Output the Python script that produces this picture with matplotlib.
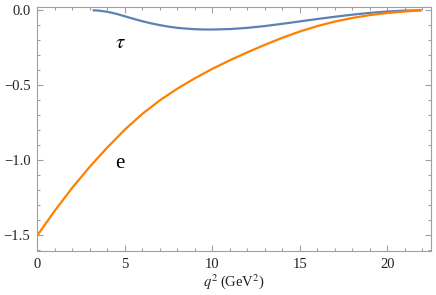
import matplotlib
matplotlib.use("Agg")
import matplotlib.pyplot as plt
from matplotlib.ticker import MultipleLocator

# electron channel (orange)
q2_e = [0, 1, 2, 3, 4, 5, 6, 7, 8, 9, 10, 11, 12, 13, 14, 15, 16, 17, 18, 19, 20, 21, 21.95]
val_e = [-1.50, -1.335, -1.182, -1.042, -0.914, -0.795, -0.69, -0.60, -0.522, -0.453, -0.39,
         -0.333, -0.28, -0.23, -0.183, -0.141, -0.105, -0.075, -0.051, -0.032, -0.018, -0.008, 0.0]

# tau channel (blue)
q2_t = [3.16, 3.5, 4, 4.5, 5, 5.5, 6, 6.5, 7, 7.5, 8, 8.5, 9, 9.5, 10, 11, 12, 13, 14, 15,
        16, 17, 18, 19, 20, 21, 21.95]
val_t = [0.0, -0.002, -0.01, -0.023, -0.04, -0.057, -0.073, -0.087, -0.099, -0.109, -0.117,
         -0.122, -0.126, -0.128, -0.128, -0.125, -0.117, -0.105, -0.09, -0.074, -0.058,
         -0.043, -0.029, -0.017, -0.008, -0.002, 0.0]

x_ticks = [0, 5, 10, 15, 20]
y_ticks = [0.0, -0.5, -1.0, -1.5]
y_tick_labels = ["0.0", "\u22120.5", "\u22121.0", "\u22121.5"]

plt.rcParams['font.family'] = ['Liberation Serif', 'DejaVu Serif']
plt.rcParams['mathtext.fontset'] = 'stix'

fig = plt.figure(figsize=(4.36, 2.95), dpi=100)
ax = fig.add_axes([37.4/436, 1 - 250.7/295, (431 - 37.4)/436, (250.7 - 7.3)/295])

ax.plot(q2_t, val_t, color='#5E81B5', lw=1.6, solid_capstyle='butt', solid_joinstyle='round')
ax.plot(q2_e, val_e, color='#FF8000', lw=1.6, solid_capstyle='butt', solid_joinstyle='round')

ax.set_xlim(0, (431 - 37.4)/17.5)
ax.set_ylim(-(250.7 - 10.3)/150, (10.3 - 7.3)/150)

ax.set_xticks(x_ticks)
ax.set_xticklabels([str(t) for t in x_ticks])
ax.set_yticks(y_ticks)
ax.set_yticklabels(y_tick_labels)
ax.xaxis.set_minor_locator(MultipleLocator(1))
ax.yaxis.set_minor_locator(MultipleLocator(0.1))

frame_col = '#a0a0a0'
for s in ax.spines.values():
    s.set_color(frame_col)
    s.set_linewidth(0.8)
ax.tick_params(which='both', direction='in', top=True, right=True, color=frame_col, width=0.8)
ax.tick_params(which='major', length=4.0, labelsize=10.5, labelcolor='#222222', pad=5)
ax.tick_params(which='minor', length=2.2)

ax.set_xlabel(r"$q^2\;$(GeV$^2$)", fontsize=10.5, color='#222222', labelpad=1)

ax.text(4.72, -0.218, r"$\tau$", fontsize=15, ha='center', va='center')
ax.text(4.72, -1.02, "e", fontsize=15, ha='center', va='center')

fig.savefig("out.png", dpi=100)
